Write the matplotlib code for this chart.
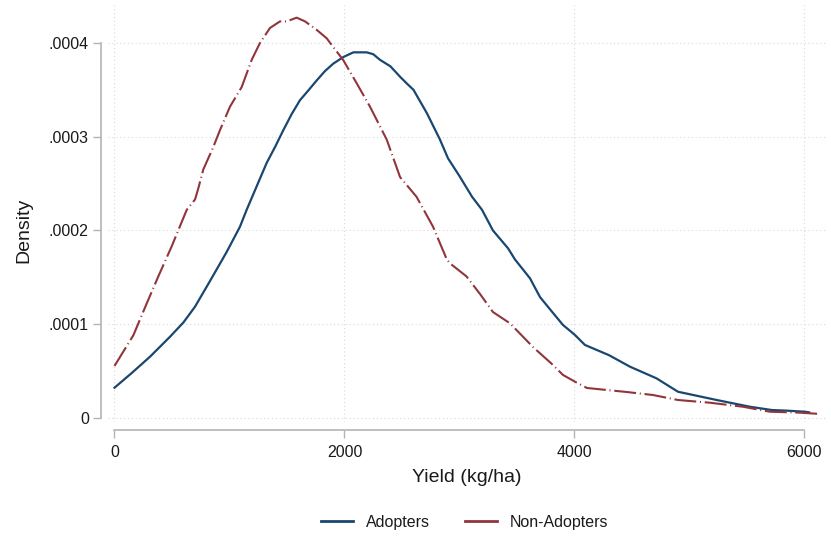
import matplotlib
matplotlib.use("Agg")
import matplotlib.pyplot as plt
from matplotlib.lines import Line2D

plt.rcParams['font.family'] = ['Liberation Sans', 'DejaVu Sans']

# Data (kernel density estimates)
adopt_x = [0, 150, 309, 483, 600, 700, 830, 975, 1091, 1149, 1236, 1323, 1400, 1468,
           1540, 1613, 1690, 1758, 1830, 1903, 1990, 2077, 2193, 2250, 2309, 2400, 2483,
           2540, 2600, 2717, 2830, 2900, 3000, 3109, 3196, 3291, 3422, 3483, 3613, 3700,
           3800, 3900, 4000, 4091, 4300, 4483, 4713, 4900, 5236, 5526, 5715, 5850, 6004, 6040]
adopt_y = [0.0000323, 0.0000480, 0.0000654, 0.0000867, 0.0001020, 0.0001187, 0.0001460,
           0.0001770, 0.0002040, 0.0002220, 0.0002470, 0.0002720, 0.0002900, 0.0003070,
           0.0003240, 0.0003390, 0.0003500, 0.0003600, 0.0003700, 0.0003780, 0.0003850,
           0.0003900, 0.0003900, 0.0003880, 0.0003820, 0.0003750, 0.0003640, 0.0003570,
           0.0003500, 0.0003250, 0.0002970, 0.0002770, 0.0002580, 0.0002360, 0.0002220,
           0.0002000, 0.0001810, 0.0001690, 0.0001490, 0.0001290, 0.0001140, 0.0000992,
           0.0000890, 0.0000779, 0.0000670, 0.0000547, 0.0000423, 0.0000280, 0.0000192,
           0.0000120, 0.0000085, 0.0000078, 0.0000067, 0.0000060]

non_x = [0, 165, 283, 381, 497, 628, 700, 729, 772, 859, 917, 1004, 1106, 1193, 1265,
         1352, 1439, 1497, 1584, 1657, 1758, 1845, 1900, 1988, 2106, 2222, 2309, 2367,
         2483, 2626, 2770, 2890, 2917, 3061, 3180, 3291, 3439, 3639, 3800, 3900, 4000,
         4109, 4457, 4683, 4900, 5178, 5465, 5700, 5961, 6135]
non_y = [0.0000555, 0.0000885, 0.0001230, 0.0001510, 0.0001830, 0.0002220, 0.0002330,
         0.0002450, 0.0002650, 0.0002890, 0.0003070, 0.0003320, 0.0003530, 0.0003820,
         0.0004000, 0.0004160, 0.0004230, 0.0004230, 0.0004270, 0.0004230, 0.0004140,
         0.0004050, 0.0003960, 0.0003820, 0.0003570, 0.0003320, 0.0003110, 0.0002970,
         0.0002570, 0.0002360, 0.0002040, 0.0001690, 0.0001650, 0.0001510, 0.0001320,
         0.0001130, 0.0001010, 0.0000757, 0.0000580, 0.0000459, 0.0000390, 0.0000320,
         0.0000277, 0.0000245, 0.0000192, 0.0000163, 0.0000120, 0.0000067, 0.0000057,
         0.0000043]

xticks = [0, 2000, 4000, 6000]
xtick_labels = ['0', '2000', '4000', '6000']
yticks = [0, 0.0001, 0.0002, 0.0003, 0.0004]
ytick_labels = ['0', '.0001', '.0002', '.0003', '.0004']

series_names = ['Adopters', 'Non-Adopters']
blue = '#1a476f'
red = '#90353b'
text_col = '#1a1a1a'
axis_col = '#b4b4b4'

fig = plt.figure(figsize=(8.31, 5.37), dpi=100)
ax = fig.add_axes([108/831, (537-422)/537, 718/831, 417/537])

red_dash = (0, (10.5, 1.8, 0.5, 1.8))
ax.plot(adopt_x, adopt_y, color=blue, lw=1.6, solid_joinstyle='round', zorder=3)
ax.plot(non_x, non_y, color=red, lw=1.5, linestyle=red_dash, zorder=3)

ax.set_xlim(-56.5, 6187)
ax.set_ylim(-0.00000427, 0.0004405)

ax.set_xticks(xticks)
ax.set_xticklabels(xtick_labels)
ax.set_yticks(yticks)
ax.set_yticklabels(ytick_labels)

ax.grid(True, color='#d9d9d9', linestyle=(0, (1, 2.5)), linewidth=0.8, zorder=0)

for s in ['top', 'right']:
    ax.spines[s].set_visible(False)
ax.spines['left'].set_position(('outward', 5.0))
ax.spines['bottom'].set_position(('outward', 6.1))
ax.spines['left'].set_bounds(0, 0.0004)
ax.spines['bottom'].set_bounds(0, 6000)
for s in ['left', 'bottom']:
    ax.spines[s].set_color(axis_col)
    ax.spines[s].set_linewidth(1.2)

ax.tick_params(axis='both', direction='out', length=5.8, width=1.0, color=axis_col,
               labelsize=11.5, labelcolor=text_col)
ax.tick_params(axis='y', pad=3.0)
ax.tick_params(axis='x', pad=4.5)

fig.text(24/831, 1 - 230/537, 'Density', rotation=90, ha='center', va='center',
         fontsize=14, color=text_col)
fig.text(467/831, 1 - 478/537, 'Yield (kg/ha)', ha='center', va='center',
         fontsize=14, color=text_col)

handles = [Line2D([], [], color=blue, lw=2.0),
           Line2D([], [], color=red, lw=2.0)]
fig.legend(handles, series_names, loc='center', bbox_to_anchor=(465/831, 1 - 522/537),
           ncol=2, frameon=False, fontsize=11.5, handlelength=2.0, handletextpad=0.8,
           columnspacing=2.2, labelcolor=text_col)

fig.savefig('out.png', dpi=100, facecolor='white')
